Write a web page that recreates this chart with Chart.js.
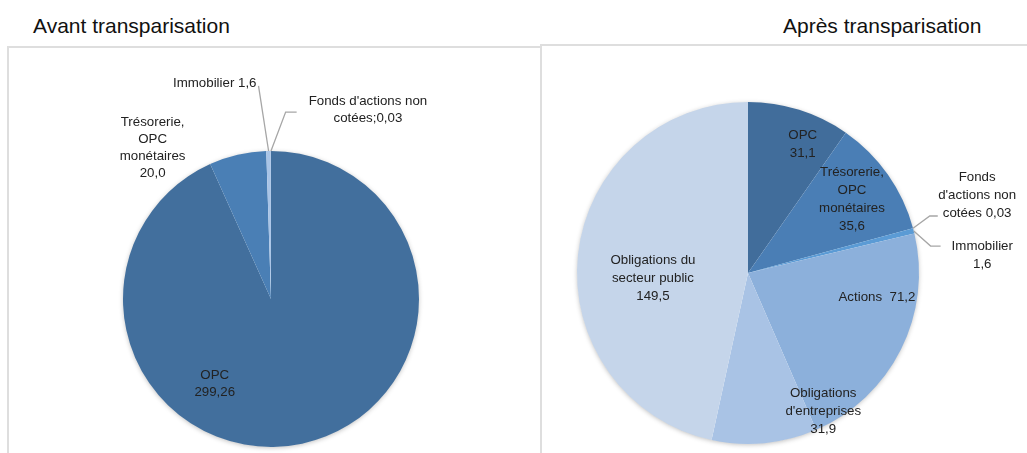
<!DOCTYPE html>
<html>
<head>
<meta charset="utf-8">
<script src="https://cdn.jsdelivr.net/npm/chart.js@4"></script>
<style>
  body { margin: 0; width: 1027px; height: 453px; background: #fff; position: relative; overflow: hidden; font-family: "Liberation Sans", Arial, sans-serif; }
  .title { position: absolute; top: 14px; font-size: 21px; color: #111; white-space: nowrap; }
  .box { position: absolute; border: 2px solid #dedede; box-sizing: border-box; }
  .wrap { position: absolute; }
</style>
</head>
<body>
<div class="title" style="left:33px">Avant transparisation</div>
<div class="title" style="left:783px">Après transparisation</div>
<div class="box" style="left:7px; top:46px; width:535px; height:420px"></div>
<div class="box" style="left:540px; top:44px; width:500px; height:420px"></div>
<div class="wrap" style="left:8px; top:47px; width:532px; height:406px"><canvas id="avantChart"></canvas></div>
<div class="wrap" style="left:541px; top:45px; width:486px; height:408px"><canvas id="apresChart"></canvas></div>
<script>
// ---- données ----
const avantLabels = [["OPC", "299,26"], ["Trésorerie,", "OPC", "monétaires", "20,0"], ["Immobilier 1,6"], ["Fonds d'actions non", "cotées;0,03"]];
const avantValues = [299.26, 20.0, 1.6, 0.03];
const avantColors = ["#426f9d", "#4a7fb5", "#a9c4e6", "#c9d9ee"];

const apresLabels = [["OPC", "31,1"], ["Trésorerie,", "OPC", "monétaires", "35,6"], ["Fonds", "d'actions non", "cotées 0,03"], ["Immobilier", "1,6"], ["Actions  71,2"], ["Obligations", "d'entreprises", "31,9"], ["Obligations du", "secteur public", "149,5"]];
const apresValues = [31.1, 35.6, 0.03, 1.6, 71.2, 31.9, 149.5];
const apresColors = ["#416d9b", "#4a7eb5", "#4f8cc8", "#5b9bd5", "#8cb0db", "#a9c3e5", "#c5d5ea"];

// position des étiquettes (en fraction du rayon, depuis le centre)
const avantPlace = [
    { fx: -0.38, fy: 0.57 },
    { fx: -0.80, fy: -1.02 },
    { fx: -0.38, fy: -1.46, lead: { side: "right", row: 0, gap: 2, dy: 3, elbow: 0 } },
    { fx: 0.655, fy: -1.28, lead: { side: "left", row: 0, gap: 12, dy: 11, elbow: 11 } },
];
const apresPlace = [
    { fx: 0.32, fy: -0.754 },
    { fx: 0.608, fy: -0.43 },
    { fx: 1.34, fy: -0.456, lead: { side: "left", row: 2, gap: 5, dy: 3, elbow: 8 } },
    { fx: 1.37, fy: -0.105, lead: { side: "left", row: 0, gap: 11, dy: 0, elbow: 10 } },
    { fx: 0.754, fy: 0.14 },
    { fx: 0.44, fy: 0.81 },
    { fx: -0.556, fy: 0.03 },
];

// ombre légère sous le camembert
const pieShadow = {
    id: "pieShadow",
    beforeDatasetsDraw(chart) {
        const arc = chart.getDatasetMeta(0).data[0];
        if (!arc) return;
        const ctx = chart.ctx;
        ctx.save();
        ctx.shadowColor = "rgba(0,0,0,0.28)";
        ctx.shadowBlur = 5;
        ctx.shadowOffsetY = 1;
        ctx.fillStyle = "#fff";
        ctx.beginPath();
        ctx.arc(arc.x, arc.y, arc.outerRadius - 0.5, 0, Math.PI * 2);
        ctx.fill();
        ctx.restore();
    }
};

// étiquettes + lignes de rappel
const pieLabels = {
    id: "pieLabels",
    afterDatasetsDraw(chart, args, opts) {
        const meta = chart.getDatasetMeta(0);
        const ctx = chart.ctx;
        const c = meta.data[0];
        const R = c.outerRadius;
        ctx.save();
        ctx.font = opts.font;
        ctx.textAlign = "center";
        ctx.textBaseline = "middle";
        opts.place.forEach((p, i) => {
            const lines = opts.labels[i];
            const bx = c.x + p.fx * R;
            const by = c.y + p.fy * R;
            const y0 = by - (lines.length - 1) * opts.lineHeight / 2;
            ctx.fillStyle = opts.color;
            lines.forEach((t, k) => ctx.fillText(t, bx, y0 + k * opts.lineHeight));
            if (p.lead) {
                const a = meta.data[i];
                const mid = (a.startAngle + a.endAngle) / 2;
                const sx = c.x + Math.cos(mid) * R;
                const sy = c.y + Math.sin(mid) * R;
                const w = ctx.measureText(lines[p.lead.row]).width;
                const ry = y0 + p.lead.row * opts.lineHeight + p.lead.dy;
                let ex, kx;
                if (p.lead.side === "left") {
                    ex = bx - w / 2 - p.lead.gap;
                    kx = ex - p.lead.elbow;
                } else {
                    ex = bx + w / 2 + p.lead.gap;
                    kx = ex + p.lead.elbow;
                }
                ctx.strokeStyle = "#a6a6a6";
                ctx.lineWidth = 1.3;
                ctx.beginPath();
                ctx.moveTo(sx, sy);
                ctx.lineTo(kx, ry);
                ctx.lineTo(ex, ry);
                ctx.stroke();
            }
        });
        ctx.restore();
    }
};

function makePie(id, values, colors, labels, place, padding, lineHeight) {
    const ctx = document.getElementById(id).getContext("2d");
    return new Chart(ctx, {
        type: "pie",
        data: {
            labels: labels.map(l => l.join(" ")),
            datasets: [{
                data: values,
                backgroundColor: colors,
                borderWidth: 0,
            }],
        },
        options: {
            responsive: true,
            maintainAspectRatio: false,
            animation: false,
            layout: { padding },
            plugins: {
                legend: { display: false },
                tooltip: { enabled: false },
                pieLabels: { labels, place, lineHeight, font: "13.3px 'Liberation Sans', Arial, sans-serif", color: "#222" },
            },
        },
        plugins: [pieShadow, pieLabels],
    });
}

makePie("avantChart", avantValues, avantColors, avantLabels, avantPlace, { top: 104, bottom: 6, left: 115, right: 121 }, 17);
makePie("apresChart", apresValues, apresColors, apresLabels, apresPlace, { top: 57, bottom: 9, left: 36, right: 108 }, 18);
</script>
</body>
</html>
